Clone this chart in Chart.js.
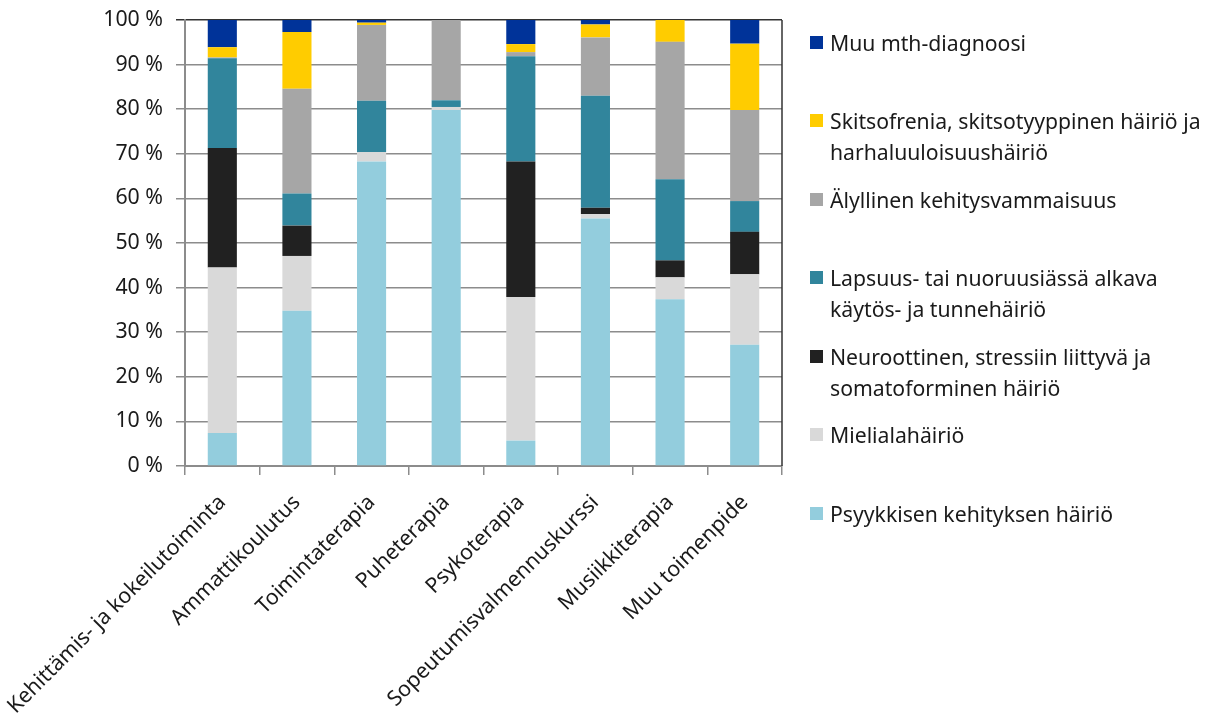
<!DOCTYPE html>
<html lang="fi">
<head>
<meta charset="utf-8">
<script src="https://cdn.jsdelivr.net/npm/chart.js@4.4.1/dist/chart.umd.min.js"></script>
<style>
  html, body { margin: 0; padding: 0; background: #fff; }
  #wrap { position: relative; width: 1208px; height: 716px; overflow: hidden; }
  #chart { position: absolute; left: 0; top: 0; }
  .lg { position: absolute; left: 810px; font-family: "Noto Sans", "DejaVu Sans", sans-serif;
        font-size: 21.2px; line-height: 31px; color: #1a1a1a; white-space: nowrap; }
  .lg i { position: absolute; left: 0; top: 9px; width: 13px; height: 13px; }
  .lg span { display: block; margin-left: 20px; }
</style>
</head>
<body>
<div id="wrap">
  <canvas id="chart" width="1208" height="716"></canvas>
  <div id="legend"></div>
</div>
<script>
// Toimenpiteet ja niiden diagnoosijakauma (%)
const categories = [
  'Kehittämis- ja kokeilutoiminta', 'Ammattikoulutus', 'Toimintaterapia', 'Puheterapia',
  'Psykoterapia', 'Sopeutumisvalmennuskurssi', 'Musiikkiterapia', 'Muu toimenpide'
];

const psyykkinenKehitys = [7.4, 34.8, 68.3, 79.8, 5.7, 55.5, 37.4, 27.2];
const mielialahairio    = [37.1, 12.3, 2.1, 0.7, 32.2, 1.0, 4.9, 15.8];
const neuroottinen      = [26.8, 6.8, 0, 0, 30.4, 1.4, 3.8, 9.5];
const lapsuusNuoruus    = [20.1, 7.2, 11.5, 1.5, 23.6, 25.1, 18.2, 6.9];
const alyllinen         = [0.2, 23.5, 17.0, 18.0, 0.9, 13.1, 30.8, 20.4];
const skitsofrenia      = [2.3, 12.7, 0.5, 0, 1.8, 2.9, 4.9, 14.9];
const muuDiagnoosi      = [6.1, 2.7, 0.6, 0, 5.4, 1.0, 0, 5.3];

const yTicks = [0, 10, 20, 30, 40, 50, 60, 70, 80, 90, 100];

// Sarjat alhaalta ylös pinottuna
const series = [
  { label: ['Psyykkisen kehityksen häiriö'], data: psyykkinenKehitys, color: '#93CDDD' },
  { label: ['Mielialahäiriö'], data: mielialahairio, color: '#D9D9D9' },
  { label: ['Neuroottinen, stressiin liittyvä ja', 'somatoforminen häiriö'], data: neuroottinen, color: '#212121' },
  { label: ['Lapsuus- tai nuoruusiässä alkava', 'käytös- ja tunnehäiriö'], data: lapsuusNuoruus, color: '#31859C' },
  { label: ['Älyllinen kehitysvammaisuus'], data: alyllinen, color: '#A6A6A6' },
  { label: ['Skitsofrenia, skitsotyyppinen häiriö ja', 'harhaluuloisuushäiriö'], data: skitsofrenia, color: '#FFCC00' },
  { label: ['Muu mth-diagnoosi'], data: muuDiagnoosi, color: '#003399' }
];

const FONT = '"Noto Sans", "DejaVu Sans", sans-serif';
const TEXT = '#1a1a1a';
const GRID = '#8c8c8c';

// Kaavioalueen oikea reunaviiva
const frameLine = {
  id: 'frameLine',
  afterDraw(chart) {
    const { ctx, chartArea: a } = chart;
    ctx.save();
    ctx.strokeStyle = '#333';
    ctx.lineWidth = 1.5;
    ctx.beginPath();
    ctx.moveTo(a.right, a.top);
    ctx.lineTo(a.right, a.bottom);
    ctx.stroke();
    ctx.restore();
  }
};

new Chart(document.getElementById('chart'), {
  type: 'bar',
  data: {
    labels: categories,
    datasets: series.map(s => ({
      label: s.label.join(' '),
      data: s.data,
      backgroundColor: s.color,
      borderWidth: 0,
      categoryPercentage: 1,
      barPercentage: 0.39
    }))
  },
  options: {
    responsive: false,
    animation: false,
    layout: { padding: { top: 20, right: 426, bottom: 0, left: 0 } },
    plugins: { legend: { display: false }, tooltip: { enabled: false } },
    scales: {
      x: {
        stacked: true,
        offset: true,
        afterFit(scale) {
          scale.height = 250;
          scale.paddingLeft = 0;
          scale.paddingRight = 0;
        },
        grid: { display: true, drawOnChartArea: false, drawTicks: true, tickLength: 9, color: GRID, lineWidth: 1.5, offset: true },
        border: { display: true, color: GRID, width: 2 },
        ticks: {
          autoSkip: false, maxRotation: 45, minRotation: 45, padding: 15,
          color: TEXT, font: { family: FONT, size: 21.3 }
        }
      },
      y: {
        stacked: true,
        min: 0, max: 100,
        afterFit(scale) {
          scale.width = 185;
          scale.paddingTop = 0;
          scale.paddingBottom = 0;
        },
        afterBuildTicks(scale) { scale.ticks = yTicks.map(v => ({ value: v })); },
        grid: {
          color: ctx => (ctx.tick && ctx.tick.value === 100 ? '#333' : GRID),
          lineWidth: 1.5, tickLength: 9, drawTicks: true
        },
        border: { display: true, color: GRID, width: 2 },
        ticks: {
          padding: 13,
          color: TEXT, font: { family: FONT, size: 21.3 },
          callback: v => v + ' %'
        }
      }
    }
  },
  plugins: [frameLine]
});

// Selite oikealla, ylimmästä sarjasta alimpaan
const legendTops = [27, 105, 184, 262, 341, 419, 498];
const legend = document.getElementById('legend');
series.slice().reverse().forEach((s, i) => {
  const d = document.createElement('div');
  d.className = 'lg';
  d.style.top = legendTops[i] + 'px';
  const sw = document.createElement('i');
  sw.style.background = s.color;
  d.appendChild(sw);
  s.label.forEach(t => {
    const sp = document.createElement('span');
    sp.textContent = t;
    d.appendChild(sp);
  });
  legend.appendChild(d);
});
</script>
</body>
</html>
